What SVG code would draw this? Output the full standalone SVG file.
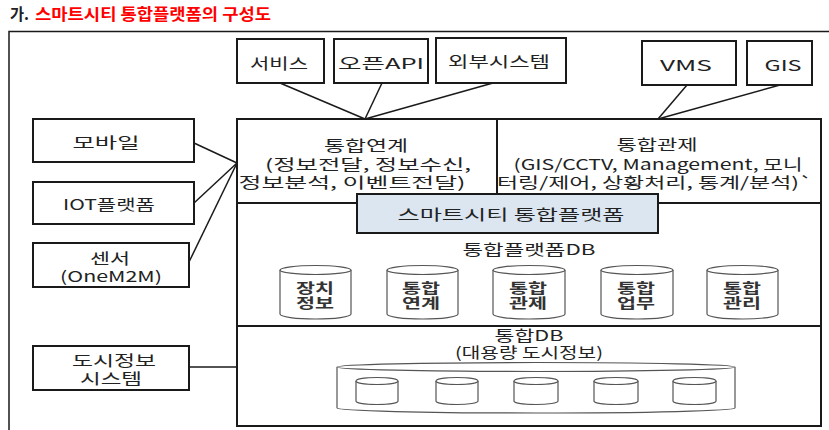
<svg xmlns="http://www.w3.org/2000/svg" width="829" height="430" viewBox="0 0 829 430">
<style>
text{font-family:"Malgun Gothic","Noto Sans CJK KR","Noto Sans",sans-serif;fill:#222;text-anchor:middle;dominant-baseline:central;font-size:15px}
.box{fill:#fff;stroke:#1a1a1a;stroke-width:2}
.main{fill:none;stroke:#1a1a1a;stroke-width:2}
.cyl{fill:#fff;stroke:#555;stroke-width:1.2}
.con{stroke:#1a1a1a;stroke-width:1.5;fill:none}
.b{font-weight:bold;font-size:13.5px;fill:#333}
.t{font-weight:bold;font-size:16px;text-anchor:start}
</style>
<rect width="829" height="430" fill="#fff"/>
<g id="title">
<text class="t" x="10" y="13" fill="#111" textLength="19" lengthAdjust="spacingAndGlyphs">가.</text>
<text class="t" x="35" y="13" style="fill:#ff0000" textLength="236" lengthAdjust="spacingAndGlyphs">스마트시티 통합플랫폼의 구성도</text>
</g>
<path d="M9 432 V31.5 H829" fill="none" stroke="#1a1a1a" stroke-width="1.5"/>
<g id="connectors">
<line class="con" x1="280" y1="83" x2="365" y2="119"/>
<line class="con" x1="382" y1="83" x2="365" y2="119"/>
<line class="con" x1="493" y1="83" x2="365" y2="119"/>
<line class="con" x1="687" y1="85" x2="658" y2="119"/>
<line class="con" x1="780" y1="85" x2="658" y2="119"/>
<line class="con" x1="194" y1="143" x2="237" y2="163"/>
<line class="con" x1="194" y1="203" x2="237" y2="163"/>
<line class="con" x1="189" y1="262" x2="237" y2="163"/>
<line class="con" x1="189" y1="367" x2="237" y2="367"/>
</g>
<g id="n-service"><rect class="box" x="237" y="39" width="87" height="44"/><text x="279" y="62" textLength="58" lengthAdjust="spacingAndGlyphs">서비스</text></g>
<g id="n-openapi"><rect class="box" x="334" y="39" width="94" height="44"/><text x="381" y="62" textLength="86" lengthAdjust="spacingAndGlyphs">오픈API</text></g>
<g id="n-external"><rect class="box" x="436" y="38" width="130" height="45"/><text x="499" y="60" textLength="102" lengthAdjust="spacingAndGlyphs">외부시스템</text></g>
<g id="n-vms"><rect class="box" x="642" y="41" width="94" height="44"/><text x="686" y="64" textLength="52" lengthAdjust="spacingAndGlyphs">VMS</text></g>
<g id="n-gis"><rect class="box" x="747" y="41" width="65" height="44"/><text x="783" y="64" textLength="37" lengthAdjust="spacingAndGlyphs">GIS</text></g>
<g id="n-mobile"><rect class="box" x="33" y="119" width="161" height="43"/><text x="106" y="141" textLength="67" lengthAdjust="spacingAndGlyphs">모바일</text></g>
<g id="n-iot"><rect class="box" x="33" y="182" width="161" height="42"/><text x="109" y="203" textLength="92" lengthAdjust="spacingAndGlyphs">IOT플랫폼</text></g>
<g id="n-sensor"><rect class="box" x="33" y="243" width="156" height="44"/><text x="110" y="257" textLength="40" lengthAdjust="spacingAndGlyphs">센서</text><text x="111" y="275" textLength="102" lengthAdjust="spacingAndGlyphs">(OneM2M)</text></g>
<g id="n-cityinfo"><rect class="box" x="33" y="346" width="156" height="44"/><text x="114" y="359" textLength="84" lengthAdjust="spacingAndGlyphs">도시정보</text><text x="111" y="377" textLength="62" lengthAdjust="spacingAndGlyphs">시스템</text></g>
<g id="n-platform">
<rect class="main" x="237" y="119" width="584" height="307"/>
<line class="main" x1="497" y1="119" x2="497" y2="203"/>
<line class="main" x1="237" y1="203" x2="821" y2="203"/>
<line class="main" x1="237" y1="326" x2="821" y2="326"/>
</g>
<g id="n-link">
<text x="366" y="144" textLength="84" lengthAdjust="spacingAndGlyphs">통합연계</text>
<text x="368" y="163" textLength="206" lengthAdjust="spacingAndGlyphs">(정보전달, 정보수신,</text>
<text x="352" y="181" textLength="227" lengthAdjust="spacingAndGlyphs">정보분석, 이벤트전달)</text>
</g>
<g id="n-control">
<text x="657" y="143" textLength="81" lengthAdjust="spacingAndGlyphs">통합관제</text>
<text x="658" y="163" textLength="289" lengthAdjust="spacingAndGlyphs">(GIS/CCTV, Management, 모니</text>
<text x="655" y="181" textLength="316" lengthAdjust="spacingAndGlyphs">터링/제어, 상황처리, 통계/분석)`</text>
</g>
<g id="n-smartcity"><rect x="357" y="194" width="301" height="39" fill="#dce6f1" stroke="#1a1a1a" stroke-width="2"/><text x="511" y="213" textLength="227" lengthAdjust="spacingAndGlyphs">스마트시티 통합플랫폼</text></g>
<g id="n-platformdb">
<text x="529" y="248" textLength="133" lengthAdjust="spacingAndGlyphs">통합플랫폼DB</text>
<g id="db-device"><path class="cyl" d="M280 270 V314 A35.5 5 0 0 0 351 314 V270"/><ellipse class="cyl" cx="315.5" cy="270" rx="35.5" ry="4.5"/><text class="b" x="315" y="287" textLength="38" lengthAdjust="spacingAndGlyphs">장치</text><text class="b" x="315" y="302" textLength="38" lengthAdjust="spacingAndGlyphs">정보</text></g>
<g id="db-link"><path class="cyl" d="M387 270 V314 A35.5 5 0 0 0 458 314 V270"/><ellipse class="cyl" cx="422.5" cy="270" rx="35.5" ry="4.5"/><text class="b" x="421" y="287" textLength="38" lengthAdjust="spacingAndGlyphs">통합</text><text class="b" x="421" y="302" textLength="38" lengthAdjust="spacingAndGlyphs">연계</text></g>
<g id="db-control"><path class="cyl" d="M493 270 V314 A36 5 0 0 0 565 314 V270"/><ellipse class="cyl" cx="529" cy="270" rx="36" ry="4.5"/><text class="b" x="528" y="287" textLength="38" lengthAdjust="spacingAndGlyphs">통합</text><text class="b" x="528" y="302" textLength="38" lengthAdjust="spacingAndGlyphs">관제</text></g>
<g id="db-work"><path class="cyl" d="M601 270 V314 A36 5 0 0 0 673 314 V270"/><ellipse class="cyl" cx="637" cy="270" rx="36" ry="4.5"/><text class="b" x="636" y="287" textLength="38" lengthAdjust="spacingAndGlyphs">통합</text><text class="b" x="636" y="302" textLength="38" lengthAdjust="spacingAndGlyphs">업무</text></g>
<g id="db-manage"><path class="cyl" d="M707 270 V314 A35.5 5 0 0 0 778 314 V270"/><ellipse class="cyl" cx="742.5" cy="270" rx="35.5" ry="4.5"/><text class="b" x="742" y="287" textLength="38" lengthAdjust="spacingAndGlyphs">통합</text><text class="b" x="742" y="302" textLength="38" lengthAdjust="spacingAndGlyphs">관리</text></g>
</g>
<g id="n-integrateddb">
<text x="529" y="334" textLength="69" lengthAdjust="spacingAndGlyphs">통합DB</text>
<text x="529" y="351" textLength="148" lengthAdjust="spacingAndGlyphs">(대용량 도시정보)</text>
<path class="cyl" d="M337 367 V408 A199 5 0 0 0 735 408 V367"/>
<ellipse class="cyl" cx="536" cy="367" rx="199" ry="4.5"/>
<g id="db-s1"><path class="cyl" d="M356 381 V401 A21 3.5 0 0 0 398 401 V381"/><ellipse class="cyl" cx="377" cy="381" rx="21" ry="3.5"/></g>
<g id="db-s2"><path class="cyl" d="M436 381 V401 A21 3.5 0 0 0 478 401 V381"/><ellipse class="cyl" cx="457" cy="381" rx="21" ry="3.5"/></g>
<g id="db-s3"><path class="cyl" d="M514 381 V401 A22 3.5 0 0 0 558 401 V381"/><ellipse class="cyl" cx="536" cy="381" rx="22" ry="3.5"/></g>
<g id="db-s4"><path class="cyl" d="M594 381 V401 A22 3.5 0 0 0 638 401 V381"/><ellipse class="cyl" cx="616" cy="381" rx="22" ry="3.5"/></g>
<g id="db-s5"><path class="cyl" d="M673 381 V401 A21.5 3.5 0 0 0 716 401 V381"/><ellipse class="cyl" cx="694.5" cy="381" rx="21.5" ry="3.5"/></g>
</g>
</svg>
